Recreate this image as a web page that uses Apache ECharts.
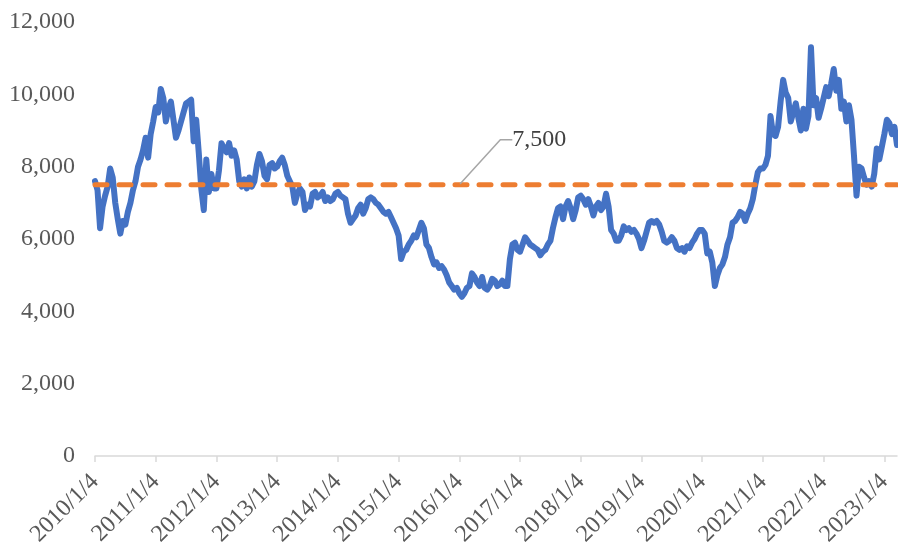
<!DOCTYPE html>
<html>
<head>
<meta charset="utf-8">
<script src="https://cdn.jsdelivr.net/npm/echarts@6/dist/echarts.min.js"></script>
<style>
  html, body { margin: 0; padding: 0; background: #ffffff; }
  #chart { width: 898px; height: 549px; }
</style>
</head>
<body>
<div id="chart"></div>
<script>
// x-axis tick labels (one per year, at 2010/1/4 + n years)
const tickLabels = ['2010/1/4', '2011/1/4', '2012/1/4', '2013/1/4', '2014/1/4', '2015/1/4', '2016/1/4',
  '2017/1/4', '2018/1/4', '2019/1/4', '2020/1/4', '2021/1/4', '2022/1/4', '2023/1/4']

// price, read twice a month from the picture (first value = early January)
const price2010 = [7600, 7350, 6300, 6900, 7200, 7450, 7950, 7700, 7000, 6550, 6150, 6500, 6400, 6750, 7000, 7350, 7600, 8000, 8200, 8450, 8800, 8250, 8900, 9250]
const price2011 = [9650, 9500, 10150, 9900, 9250, 9600, 9800, 9300, 8800, 9000, 9250, 9500, 9750, 9800, 9850, 8700, 9300, 8400, 7400, 6800, 8200, 7300, 7800, 7400]
const price2012 = [7400, 7900, 8650, 8500, 8400, 8650, 8300, 8450, 8200, 7600, 7450, 7650, 7400, 7700, 7450, 7600, 8050, 8350, 8150, 7750, 7650, 8050, 8100, 7950]
const price2013 = [8000, 8150, 8250, 8050, 7750, 7600, 7450, 7000, 7250, 7400, 7300, 6800, 6950, 6900, 7250, 7300, 7150, 7200, 7300, 7050, 7150, 7050, 7100, 7250]
const price2014 = [7300, 7200, 7150, 7100, 6700, 6450, 6550, 6650, 6850, 6950, 6700, 6850, 7100, 7150, 7100, 7000, 6950, 6850, 6750, 6700, 6750, 6600, 6450, 6300]
const price2015 = [6100, 5450, 5650, 5700, 5850, 5950, 6100, 6050, 6250, 6450, 6300, 5850, 5750, 5500, 5300, 5350, 5200, 5250, 5150, 5000, 4800, 4700, 4600, 4650]
const price2016 = [4500, 4400, 4500, 4650, 4700, 5050, 4950, 4800, 4700, 4950, 4650, 4600, 4700, 4900, 4850, 4700, 4750, 4850, 4700, 4700, 5450, 5850, 5900, 5700]
const price2017 = [5650, 5850, 6050, 5950, 5850, 5800, 5750, 5700, 5550, 5650, 5700, 5850, 5950, 6300, 6600, 6850, 6900, 6550, 6900, 7050, 6850, 6550, 6800, 7150]
const price2018 = [7200, 7100, 6950, 7100, 6900, 6650, 6900, 7000, 6800, 6900, 7250, 6900, 6250, 6150, 5950, 5950, 6100, 6350, 6250, 6300, 6200, 6250, 6150, 6000]
const price2019 = [5750, 5950, 6200, 6450, 6500, 6450, 6500, 6400, 6200, 5950, 5900, 5950, 6050, 5950, 5750, 5700, 5750, 5650, 5800, 5750, 5900, 6000, 6150, 6250]
const price2020 = [6250, 6150, 5600, 5650, 5350, 4700, 5000, 5200, 5300, 5500, 5850, 6050, 6450, 6500, 6600, 6750, 6700, 6500, 6700, 6850, 7100, 7500, 7850, 7950]
const price2021 = [7950, 8050, 8300, 9400, 8900, 8850, 9100, 9800, 10400, 10050, 9900, 9250, 9500, 9750, 9350, 9000, 9600, 9050, 9400, 11300, 9700, 9900, 9350, 9600]
const price2022 = [9900, 10200, 9950, 10300, 10700, 10100, 10400, 9600, 9800, 9250, 9700, 9300, 8300, 7200, 8000, 7950, 7700, 7500, 7600, 7450, 7800, 8500, 8200, 8550]
const price2023 = [8900, 9300, 9200, 8900, 9100, 8600]

const priceByYear = [price2010, price2011, price2012, price2013, price2014, price2015, price2016,
  price2017, price2018, price2019, price2020, price2021, price2022, price2023]
const refLevel = 7500
const refLabelTick = '2016/1/4'

// x is measured in years after 2010/1/4, two points per month
const priceData = []
priceByYear.forEach((arr, i) => {
  arr.forEach((v, k) => {
    priceData.push([i + k / 24, v])
  })
})
const endX = priceData[priceData.length - 1][0]
const tickValues = tickLabels.map((_, i) => i)

const serif = '"Times New Roman", "Liberation Serif", serif'

const chart = echarts.init(document.getElementById('chart'))
chart.setOption({
  backgroundColor: '#ffffff',
  animation: false,
  grid: { left: 95, right: 1, top: 22, bottom: 91 },
  xAxis: {
    type: 'value',
    min: 0,
    max: endX,
    interval: 1,
    axisLine: { lineStyle: { color: '#d9d9d9', width: 1.5 } },
    axisTick: { show: true, length: 6, customValues: tickValues, lineStyle: { color: '#d9d9d9', width: 1.5 } },
    splitLine: { show: false },
    axisLabel: {
      customValues: tickValues,
      rotate: 45,
      margin: 22,
      color: '#595959',
      fontFamily: serif,
      fontSize: 24,
      formatter: (v) => tickLabels[Math.round(v)] || ''
    }
  },
  yAxis: {
    type: 'value',
    min: 0,
    max: 12000,
    interval: 2000,
    axisLine: { show: false },
    axisTick: { show: false },
    splitLine: { show: false },
    axisLabel: {
      margin: 20,
      color: '#595959',
      fontFamily: serif,
      fontSize: 24,
      formatter: (v) => v.toLocaleString('en-US')
    }
  },
  series: [
    {
      name: 'Price',
      type: 'line',
      data: priceData,
      showSymbol: false,
      lineStyle: { color: '#4472c4', width: 6, join: 'round', cap: 'round' },
      z: 2
    },
    {
      name: 'Level',
      type: 'line',
      symbol: 'circle',
      symbolSize: 2,
      showSymbol: true,
      labelLine: { show: true, length2: 12, lineStyle: { color: '#a6a6a6', width: 1.5 } },
      data: [
        [0, refLevel],
        {
          value: [tickLabels.indexOf(refLabelTick), refLevel],
          label: {
            show: true,
            position: 'right',
            distance: 0,
            padding: [0, 0, 0, 8],
            color: '#404040',
            fontFamily: serif,
            fontSize: 24,
            formatter: (p) => p.value[1].toLocaleString('en-US')
          }
        },
        [endX, refLevel]
      ],
      labelLayout: (params) => params.dataIndex === 1 ? { dx: 44, dy: -45 } : {},
      lineStyle: { color: '#ed7d31', width: 5, type: [12, 12], cap: 'round' },
      itemStyle: { color: '#ed7d31' },
      z: 3
    }
  ]
})
</script>
</body>
</html>
